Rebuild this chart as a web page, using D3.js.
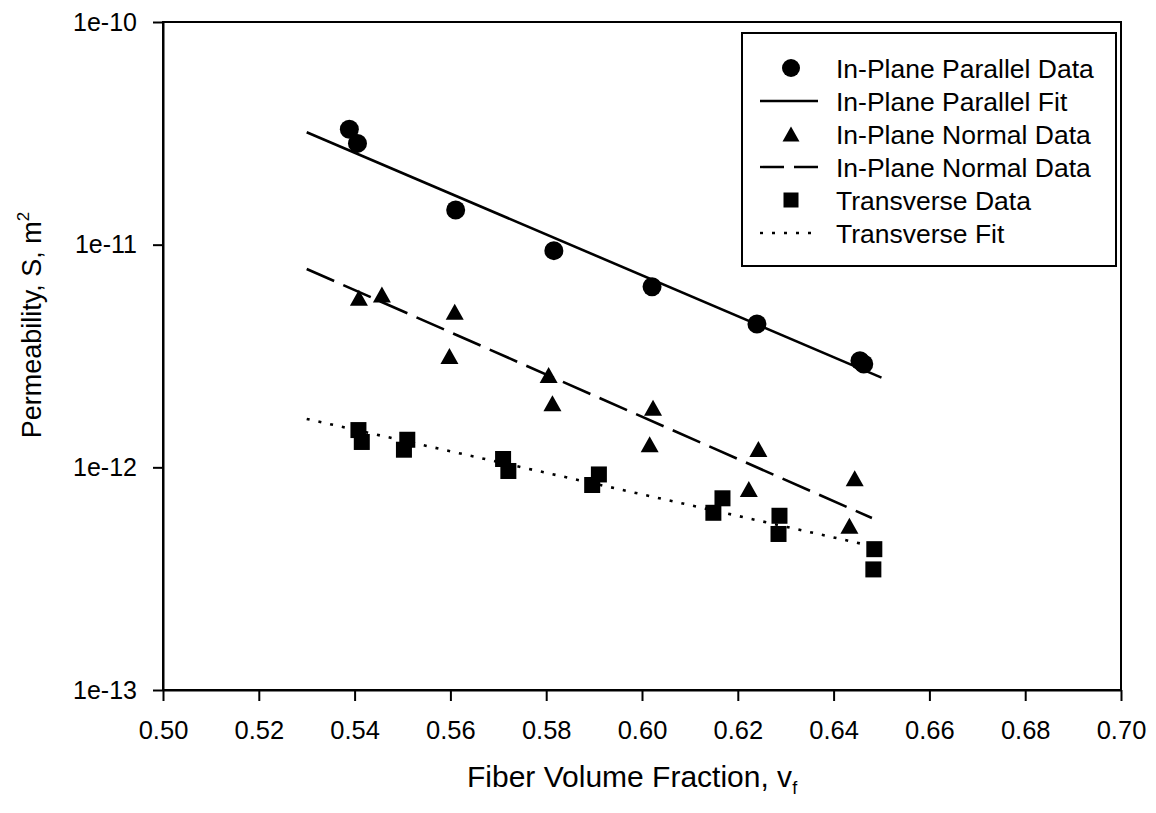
<!DOCTYPE html>
<html>
<head>
<meta charset="utf-8">
<script src="https://cdn.jsdelivr.net/npm/d3@7/dist/d3.min.js"></script>
<style>
  body { margin: 0; background: #fff; }
  text { font-family: "Liberation Sans", Arial, Helvetica, sans-serif; fill: #000; }
</style>
</head>
<body>
<svg id="chart" width="1156" height="813"></svg>
<script>
// Axis ticks
const xTicks = [0.50, 0.52, 0.54, 0.56, 0.58, 0.60, 0.62, 0.64, 0.66, 0.68, 0.70];
const xTickLabels = ["0.50", "0.52", "0.54", "0.56", "0.58", "0.60", "0.62", "0.64", "0.66", "0.68", "0.70"];
const yTicks = [1e-13, 1e-12, 1e-11, 1e-10];
const yTickLabels = ["1e-13", "1e-12", "1e-11", "1e-10"];

// In-plane parallel permeability measurements
const parallelX = [0.5389, 0.5406, 0.5611, 0.5816, 0.6021, 0.6240, 0.6455, 0.6463];
const parallelY = [3.30e-11, 2.85e-11, 1.43e-11, 9.4e-12, 6.47e-12, 4.40e-12, 3.01e-12, 2.91e-12];

// In-plane normal permeability measurements
const normalX = [0.5409, 0.5457, 0.5609, 0.5598, 0.5805, 0.5813, 0.6023, 0.6016, 0.6243, 0.6223, 0.6444, 0.6433];
const normalY = [5.78e-12, 5.98e-12, 5.00e-12, 3.16e-12, 2.60e-12, 1.94e-12, 1.85e-12, 1.27e-12, 1.21e-12, 8.0e-13, 8.93e-13, 5.46e-13];

// Transverse permeability measurements
const transverseX = [0.5408, 0.5415, 0.5510, 0.5503, 0.5710, 0.5721, 0.5910, 0.5896, 0.6168, 0.6149, 0.6287, 0.6285, 0.6485, 0.6483];
const transverseY = [1.47e-12, 1.30e-12, 1.33e-12, 1.20e-12, 1.09e-12, 9.63e-13, 9.29e-13, 8.33e-13, 7.26e-13, 6.25e-13, 6.06e-13, 5.02e-13, 4.29e-13, 3.48e-13];

// Exponential fits (straight on the log axis), endpoints
const parallelFitX = [0.53, 0.65];
const parallelFitY = [3.2e-11, 2.53e-12];
const normalFitX = [0.53, 0.648];
const normalFitY = [7.78e-12, 5.92e-13];
const transverseFitX = [0.53, 0.648];
const transverseFitY = [1.65e-12, 4.43e-13];

const legendLabels = [
  "In-Plane Parallel Data",
  "In-Plane Parallel Fit",
  "In-Plane Normal Data",
  "In-Plane Normal Data",
  "Transverse Data",
  "Transverse Fit"
];

const svg = d3.select("#chart");
const plot = { left: 163, right: 1121, top: 22, bottom: 690 };

const x = d3.scaleLinear().domain([0.50, 0.70]).range([plot.left, plot.right]);
const y = d3.scaleLog().domain([1e-13, 1e-10]).range([plot.bottom, plot.top]);

// Frame
svg.append("rect")
  .attr("x", plot.left).attr("y", plot.top)
  .attr("width", plot.right - plot.left).attr("height", plot.bottom - plot.top)
  .attr("fill", "none").attr("stroke", "#000").attr("stroke-width", 2);

// X axis
const xAxis = svg.append("g")
  .attr("transform", `translate(0,${plot.bottom})`)
  .call(d3.axisBottom(x).tickValues(xTicks)
    .tickFormat((d, i) => xTickLabels[i])
    .tickSizeInner(11).tickSizeOuter(0).tickPadding(20));
xAxis.select(".domain").attr("stroke-width", 2);
xAxis.selectAll(".tick line").attr("stroke-width", 2);
xAxis.selectAll(".tick text")
  .attr("font-size", 25.5).attr("font-family", null);

// Y axis
const yAxis = svg.append("g")
  .attr("transform", `translate(${plot.left},0)`)
  .call(d3.axisLeft(y).tickValues(yTicks)
    .tickFormat((d, i) => yTickLabels[i])
    .tickSizeInner(10).tickSizeOuter(0).tickPadding(16));
yAxis.select(".domain").attr("stroke-width", 2);
yAxis.selectAll(".tick line").attr("stroke-width", 2);
yAxis.selectAll(".tick text")
  .attr("font-size", 25).attr("font-family", null);

// Axis titles
const xTitle = svg.append("text")
  .attr("x", 467)
  .attr("y", 787)
  .attr("font-size", 30);
xTitle.append("tspan").text("Fiber Volume Fraction, v");
xTitle.append("tspan").attr("font-size", 18).attr("dy", 7).text("f");

const yTitle = svg.append("text")
  .attr("transform", "translate(41,325) rotate(-90)")
  .attr("text-anchor", "middle")
  .attr("font-size", 27);
yTitle.append("tspan").text("Permeability, S, m");
yTitle.append("tspan").attr("font-size", 17).attr("dy", -12).text("2");

// Fit lines
const line = d3.line().x(d => x(d[0])).y(d => y(d[1]));
const fits = [
  { xs: parallelFitX, ys: parallelFitY, dash: null },
  { xs: normalFitX, ys: normalFitY, dash: "30,10" },
  { xs: transverseFitX, ys: transverseFitY, dash: "3,9" }
];
fits.forEach(f => {
  svg.append("path")
    .datum(f.xs.map((v, i) => [v, f.ys[i]]))
    .attr("d", line)
    .attr("fill", "none")
    .attr("stroke", "#000")
    .attr("stroke-width", 2.6)
    .attr("stroke-dasharray", f.dash);
});

// Marker shapes
const circleR = 9.5;
const triW = 18, triH = 16;
const sqS = 16;
function triPath(cx, cy) {
  return `M${cx},${cy - triH / 2}L${cx + triW / 2},${cy + triH / 2}L${cx - triW / 2},${cy + triH / 2}Z`;
}

svg.append("g").selectAll("circle")
  .data(parallelX.map((v, i) => [v, parallelY[i]]))
  .join("circle")
  .attr("cx", d => x(d[0])).attr("cy", d => y(d[1]))
  .attr("r", circleR).attr("fill", "#000");

svg.append("g").selectAll("path")
  .data(normalX.map((v, i) => [v, normalY[i]]))
  .join("path")
  .attr("d", d => triPath(x(d[0]), y(d[1])))
  .attr("fill", "#000");

svg.append("g").selectAll("rect")
  .data(transverseX.map((v, i) => [v, transverseY[i]]))
  .join("rect")
  .attr("x", d => x(d[0]) - sqS / 2).attr("y", d => y(d[1]) - sqS / 2)
  .attr("width", sqS).attr("height", sqS).attr("fill", "#000");

// Legend
const legend = { left: 742, top: 33, right: 1116, bottom: 266 };
svg.append("rect")
  .attr("x", legend.left).attr("y", legend.top)
  .attr("width", legend.right - legend.left).attr("height", legend.bottom - legend.top)
  .attr("fill", "#fff").attr("stroke", "#000").attr("stroke-width", 2);

const rowY0 = 68, rowStep = 33;
const symX = 791, lineX0 = 760, lineX1 = 818, textX = 836;
const lg = svg.append("g");
legendLabels.forEach((label, i) => {
  const cy = rowY0 + i * rowStep;
  if (i === 0) {
    lg.append("circle").attr("cx", symX).attr("cy", cy).attr("r", 9).attr("fill", "#000");
  } else if (i === 2) {
    lg.append("path").attr("d", `M${symX},${cy - 7.5}L${symX + 8.5},${cy + 7.5}L${symX - 8.5},${cy + 7.5}Z`).attr("fill", "#000");
  } else if (i === 4) {
    lg.append("rect").attr("x", symX - 7.5).attr("y", cy - 7.5).attr("width", 15).attr("height", 15).attr("fill", "#000");
  } else {
    const dash = i === 1 ? null : (i === 3 ? "24,10" : "3,9");
    lg.append("line")
      .attr("x1", lineX0).attr("x2", lineX1).attr("y1", cy).attr("y2", cy)
      .attr("stroke", "#000").attr("stroke-width", 2.4)
      .attr("stroke-dasharray", dash);
  }
  lg.append("text")
    .attr("x", textX).attr("y", cy + 10)
    .attr("font-size", 26.5)
    .text(label);
});
</script>
</body>
</html>
